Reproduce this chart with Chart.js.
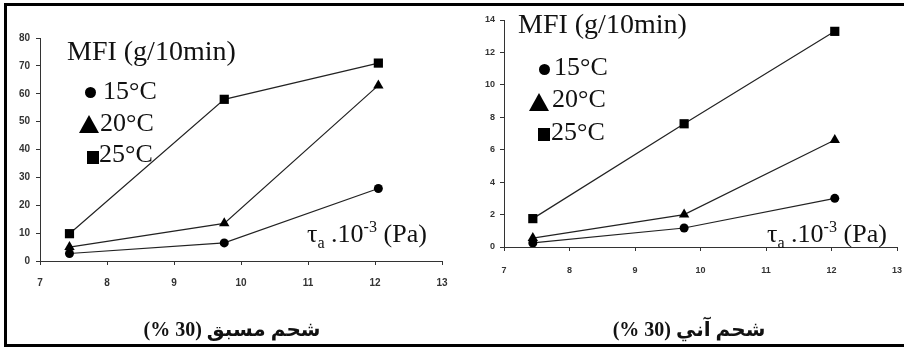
<!DOCTYPE html>
<html>
<head>
<meta charset="utf-8">
<script src="https://cdn.jsdelivr.net/npm/chart.js@4"></script>
<style>
html, body { margin: 0; padding: 0; width: 904px; height: 351px; overflow: hidden; background: #fff; }
.rule { position: absolute; background: #000; }
canvas { position: absolute; top: 0; }
#right-wrap { position: absolute; left: 450px; top: 0; width: 452px; height: 351px; overflow: hidden; }
#right-wrap canvas { left: 0; }
.t { position: absolute; white-space: nowrap; color: #111; font-family: 'Liberation Serif', 'Times New Roman', serif; line-height: 1; }
.t sub, .t sup { line-height: 0; font-size: 62%; }
.mfi { font-size: 28px; }
.leg { font-size: 26px; }
.tau { font-size: 26px; }
.ar { font-family: 'Liberation Serif', 'DejaVu Sans', serif; font-weight: bold; font-size: 20px; width: 200px; text-align: center; }
.dot { position: absolute; width: 11px; height: 11px; border-radius: 50%; background: #000; }
.tri { position: absolute; width: 0; height: 0; border-left: 10px solid transparent; border-right: 10px solid transparent; border-bottom: 18px solid #000; }
.sq { position: absolute; width: 12px; height: 13px; background: #000; }
</style>
</head>
<body>
<div class="rule" style="left:4px; top:3px; width:900px; height:3px"></div>
<div class="rule" style="left:4px; top:3px; width:3px; height:344px"></div>
<div class="rule" style="left:4px; top:344px; width:900px; height:3px"></div>
<canvas id="left-chart" width="450" height="351" style="left:0px"></canvas>
<div id="right-wrap"><canvas id="right-chart" width="460" height="351"></canvas></div>

<div class="t mfi" style="left:67px; top:37px">MFI (g/10min)</div>
<div class="dot" style="left:85px; top:87px"></div>
<div class="t leg" style="left:103px; top:78px">15°C</div>
<div class="tri" style="left:79px; top:115px"></div>
<div class="t leg" style="left:100px; top:110px">20°C</div>
<div class="sq" style="left:87px; top:151px"></div>
<div class="t leg" style="left:99px; top:141px">25°C</div>
<div class="t tau" style="left:307px; top:221px">τ<sub>a</sub> .10<sup>-3</sup> (Pa)</div>
<div class="t ar" dir="rtl" style="left:132px; top:319px">شحم مسبق (30 %)</div>

<div class="t mfi" style="left:518px; top:10px">MFI (g/10min)</div>
<div class="dot" style="left:539px; top:64px"></div>
<div class="t leg" style="left:554px; top:54px">15°C</div>
<div class="tri" style="left:529px; top:93px"></div>
<div class="t leg" style="left:552px; top:86px">20°C</div>
<div class="sq" style="left:538px; top:128px"></div>
<div class="t leg" style="left:551px; top:119px">25°C</div>
<div class="t tau" style="left:767px; top:221px">τ<sub>a</sub> .10<sup>-3</sup> (Pa)</div>
<div class="t ar" dir="rtl" style="left:589px; top:319px">شحم آني (30 %)</div>

<script>
// shear stress tau_a . 10^-3 (Pa)
var shear = [7.44, 9.75, 12.05];

// MFI (g/10min), pre-mixed grease 30 %
var premix15 = [2.7, 6.5, 26];
var premix20 = [5, 13.5, 63];
var premix25 = [9.8, 58, 71];

// MFI (g/10min), instant grease 30 %
var instant15 = [0.25, 1.17, 3.0];
var instant20 = [0.55, 2.0, 6.6];
var instant25 = [1.75, 7.6, 13.3];

var xTicks = [7, 8, 9, 10, 11, 12, 13];

function toPoints(values) {
    return values.map(function(v, i) {
        return { x: shear[i], y: v };
    });
}

function series(values, style, radius) {
    return {
        data: toPoints(values),
        showLine: true,
        borderColor: '#222',
        borderWidth: 1.2,
        pointStyle: style,
        pointRadius: radius,
        pointBackgroundColor: '#000',
        pointBorderColor: '#000',
        pointBorderWidth: 0
    };
}

function renderPanel(id, sets, yMax, yStep, area, fontSize, xPad, yPad) {
    var canvas = document.getElementById(id);
    var W = canvas.width, H = canvas.height;
    var tickFont = { family: "'Liberation Sans', Arial, sans-serif", size: fontSize, weight: 'bold' };

    return new Chart(canvas, {
        type: 'scatter',
        data: {
            datasets: [
                series(sets[0], 'circle', 4.5),
                series(sets[1], 'triangle', 6),
                series(sets[2], 'rect', 6.5)
            ]
        },
        options: {
            responsive: false,
            animation: false,
            devicePixelRatio: 1,
            layout: { padding: { top: area.top, right: W - area.right, bottom: 0, left: 0 } },
            plugins: { legend: { display: false }, tooltip: { enabled: false } },
            scales: {
                x: {
                    type: 'linear',
                    min: 7,
                    max: 13,
                    afterFit: function(scale) {
                        scale.height = H - area.bottom;
                        scale.paddingLeft = 0;
                        scale.paddingRight = 0;
                    },
                    afterBuildTicks: function(scale) {
                        scale.ticks = xTicks.map(function(v) { return { value: v }; });
                    },
                    grid: { drawOnChartArea: false, color: '#333', tickLength: 4 },
                    border: { color: '#333', width: 1 },
                    ticks: { color: '#333', font: tickFont, padding: xPad, maxRotation: 0 }
                },
                y: {
                    min: 0,
                    max: yMax,
                    afterFit: function(scale) {
                        scale.width = area.left;
                        scale.paddingTop = 0;
                        scale.paddingBottom = 0;
                    },
                    grid: { drawOnChartArea: false, color: '#333', tickLength: 4 },
                    border: { color: '#333', width: 1 },
                    ticks: { stepSize: yStep, color: '#333', font: tickFont, padding: yPad }
                }
            }
        }
    });
}

document.addEventListener('DOMContentLoaded', function() {
    renderPanel('left-chart', [premix15, premix20, premix25], 80, 10,
        { left: 40, right: 442, top: 38, bottom: 261 }, 10, 12, 6);
    renderPanel('right-chart', [instant15, instant20, instant25], 14, 2,
        { left: 54, right: 447, top: 20, bottom: 247 }, 9, 14, 5);
});
</script>
</body>
</html>
